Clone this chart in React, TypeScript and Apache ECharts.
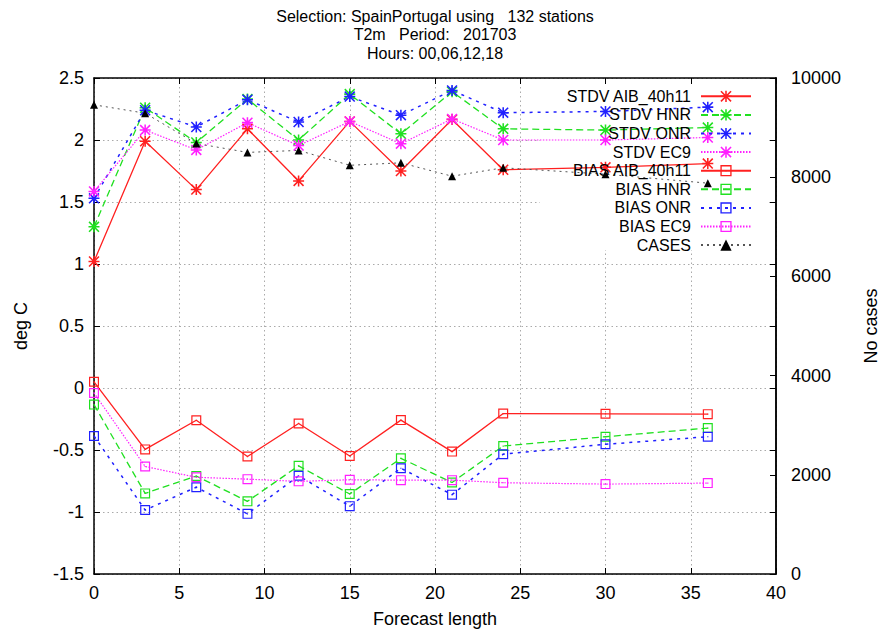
import React, { useEffect, useRef } from "react";
import * as echarts from "echarts";

const forecastLengths = [0, 3, 6, 9, 12, 15, 18, 21, 24, 30, 36];

const stdvAIB = [1.02, 1.99, 1.6, 2.09, 1.67, 2.15, 1.75, 2.165, 1.76, 1.78, 1.81];
const stdvHNR = [1.3, 2.26, 1.98, 2.33, 2.0, 2.37, 2.05, 2.39, 2.09, 2.08, 2.1];
const stdvONR = [1.53, 2.24, 2.105, 2.325, 2.145, 2.35, 2.2, 2.4, 2.22, 2.23, 2.265];
const stdvEC9 = [1.585, 2.08, 1.92, 2.14, 1.955, 2.15, 1.97, 2.17, 2.0, 2.0, 2.02];

const biasAIB = [0.05, -0.495, -0.26, -0.553, -0.286, -0.548, -0.259, -0.513, -0.206, -0.208, -0.211];
const biasHNR = [-0.134, -0.85, -0.71, -0.914, -0.628, -0.855, -0.567, -0.762, -0.468, -0.393, -0.323];
const biasONR = [-0.387, -0.984, -0.8, -1.015, -0.708, -0.953, -0.647, -0.86, -0.534, -0.454, -0.393];
const biasEC9 = [-0.04, -0.633, -0.72, -0.735, -0.753, -0.74, -0.743, -0.743, -0.764, -0.775, -0.767];

const cases = [9460, 9290, 8680, 8500, 8540, 8240, 8290, 8020, 8190, 8060, 7880];

const titleLines = ["Selection: SpainPortugal using   132 stations", "T2m   Period:   201703", "Hours: 00,06,12,18"];

const FONT = "Liberation Sans, Arial, Helvetica, sans-serif";

const STAR =
  "path://M0,43H100V57H0Z M43,0H57V100H43Z M10,0L100,90L90,100L0,10Z M90,0L100,10L10,100L0,90Z";
const SQUARE = "path://M0,0H100V100H0Z M12,12V88H88V12Z M44,44H56V56H44Z";

const RED = "#ff2020";
const GREEN = "#20e020";
const BLUE = "#2020ff";
const MAGENTA = "#ff20ff";

function mk(
  name: string,
  vals: number[],
  color: string,
  symbol: string,
  size: number,
  dash: any,
  width: number,
  yAxisIndex = 0
) {
  return {
    name,
    type: "line",
    xAxisIndex: 0,
    yAxisIndex,
    data: forecastLengths.map((x, i) => [x, vals[i]]),
    symbol,
    symbolSize: size,
    showSymbol: true,
    itemStyle: { color, borderWidth: 0 },
    lineStyle: { color, width, type: dash },
    emphasis: { disabled: true },
    z: 2,
  };
}

export default function App() {
  const ref = useRef<HTMLDivElement>(null);

  useEffect(() => {
    if (!ref.current) return;
    const chart = echarts.init(ref.current, undefined, { renderer: "svg" });
    const axisLine = { show: true, onZero: false, lineStyle: { color: "#000", width: 1.5 } };
    const tick = { show: true, inside: true, length: 6, lineStyle: { color: "#000", width: 1 } };
    const grid = { show: true, lineStyle: { color: "#aaaaaa", width: 1, type: [1.5, 3] } };
    const label = { color: "#000", fontSize: 18, fontFamily: FONT };

    const titleTexts = titleLines.map((t, i) => ({
      type: "text",
      x: 435,
      y: 16 + i * 18.5,
      z: 5,
      silent: true,
      style: {
        text: t,
        textAlign: "center",
        textVerticalAlign: "middle",
        fontSize: 16,
        fontFamily: FONT,
        fill: "#000",
      },
    }));

    const option: any = {
      animation: false,
      backgroundColor: "#fff",
      grid: { left: 94, right: 119, top: 78, bottom: 56, containLabel: false },
      legend: {
        orient: "vertical",
        align: "right",
        right: 138,
        top: 82,
        itemWidth: 50,
        itemHeight: 14,
        itemGap: 0,
        selectedMode: false,
        textStyle: { fontSize: 16, color: "#000", fontFamily: FONT, lineHeight: 18.6, padding: [0, 5, 0, 0] },
        data: [
          "STDV AIB_40h11",
          "STDV HNR",
          "STDV ONR",
          "STDV EC9",
          "BIAS AIB_40h11",
          "BIAS HNR",
          "BIAS ONR",
          "BIAS EC9",
          "CASES",
        ],
      },
      graphic: [
        {
          type: "rect",
          z: 1,
          shape: { x: 540, y: 86, width: 228, height: 164 },
          style: { fill: "#fff" },
          silent: true,
        },
        ...titleTexts,
      ],
      xAxis: [
        {
          type: "value",
          position: "bottom",
          min: 0,
          max: 40,
          interval: 5,
          axisLine,
          axisTick: tick,
          splitLine: grid,
          axisLabel: { ...label, margin: 10 },
          name: "Forecast length",
          nameLocation: "middle",
          nameGap: 36,
          nameTextStyle: { ...label },
        },
        {
          type: "value",
          position: "top",
          min: 0,
          max: 40,
          interval: 5,
          axisLine,
          axisTick: tick,
          splitLine: { show: false },
          axisLabel: { show: false },
        },
      ],
      yAxis: [
        {
          type: "value",
          position: "left",
          min: -1.5,
          max: 2.5,
          interval: 0.5,
          axisLine,
          axisTick: tick,
          splitLine: grid,
          axisLabel: { ...label, margin: 10 },
          name: "deg C",
          nameLocation: "middle",
          nameRotate: 90,
          nameGap: 64,
          nameTextStyle: { ...label },
        },
        {
          type: "value",
          position: "right",
          min: 0,
          max: 10000,
          interval: 2000,
          axisLine,
          axisTick: tick,
          splitLine: { show: false },
          axisLabel: { ...label, margin: 15, formatter: (v: number) => String(v) },
          name: "No cases",
          nameLocation: "middle",
          nameRotate: 90,
          nameGap: 86,
          nameTextStyle: { ...label },
        },
        {
          type: "value",
          position: "right",
          min: -1.5,
          max: 2.5,
          interval: 0.5,
          axisLine,
          axisTick: tick,
          splitLine: { show: false },
          axisLabel: { show: false },
        },
      ],
      series: [
        mk("STDV AIB_40h11", stdvAIB, RED, STAR, 11, "solid", 1.3),
        mk("STDV HNR", stdvHNR, GREEN, STAR, 11, [7, 4], 1.3),
        mk("STDV ONR", stdvONR, BLUE, STAR, 11, [3, 5], 1.5),
        mk("STDV EC9", stdvEC9, MAGENTA, STAR, 11, [1.5, 1.5], 1.2),
        mk("BIAS AIB_40h11", biasAIB, RED, SQUARE, 10, "solid", 1.3),
        mk("BIAS HNR", biasHNR, GREEN, SQUARE, 10, [7, 4], 1.3),
        mk("BIAS ONR", biasONR, BLUE, SQUARE, 10, [3, 5], 1.5),
        mk("BIAS EC9", biasEC9, MAGENTA, SQUARE, 10, [1.5, 1.5], 1.2),
        mk("CASES", cases, "#000", "triangle", 8, [2, 4], 1, 1),
      ],
    };
    option.series[8].lineStyle.color = "#555";
    chart.setOption(option);
    return () => chart.dispose();
  }, []);

  return (
    <div
      ref={ref}
      style={{ position: "absolute", left: 0, top: 0, width: 895, height: 633 }}
    />
  );
}
